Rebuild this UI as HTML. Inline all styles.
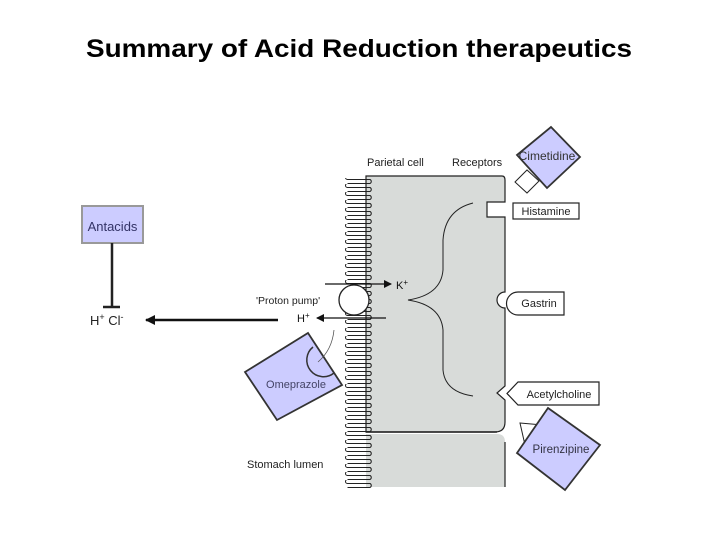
<!DOCTYPE html>
<html><head><style>
html,body{margin:0;padding:0;background:#fff;}
svg{display:block;}
text{font-family:"Liberation Sans",Arial,sans-serif;}
</style></head><body>
<svg width="720" height="540" viewBox="0 0 720 540" xmlns="http://www.w3.org/2000/svg">
<defs>
<pattern id="villi" x="344" y="176" width="32" height="8" patternUnits="userSpaceOnUse">
<path d="M26,-4.5 A2.2,2.2 0 0 1 26,-0.5 M26,-0.5 H3.5 A2,2 0 0 0 3.5,3.5 H26 A2.2,2.2 0 0 1 26,7.5 M26,7.5 H3.5" fill="none" stroke="#222" stroke-width="1"/>
</pattern>
<marker id="ah" markerWidth="8" markerHeight="8" refX="7" refY="4" orient="auto" markerUnits="userSpaceOnUse">
<path d="M0,0 L8,4 L0,8 z" fill="#111"/>
</marker>
<marker id="ah2" markerWidth="10" markerHeight="10" refX="9" refY="5" orient="auto" markerUnits="userSpaceOnUse">
<path d="M0,0 L10,5 L0,10 z" fill="#111"/>
</marker>
</defs>
<text x="359" y="57" font-size="25" font-weight="bold" text-anchor="middle" fill="#000" textLength="546" lengthAdjust="spacingAndGlyphs">Summary of Acid Reduction therapeutics</text>

<!-- cell -->
<path d="M366,176 H502 Q505,176 505,180 V202 H487 V217 H505 V292 A8,8 0 0 0 505,308 V386 L497,393 L505,400 V422 Q505,432 495,432 H366 Z" fill="#d8dbd9" stroke="#222" stroke-width="1.2"/>
<path d="M366,434 H497 Q505,434 505,442 V487 H366 Z" fill="#d8dbd9" stroke="none"/>
<path d="M505,442 V487" stroke="#222" stroke-width="1.2" fill="none"/>
<path d="M366,432 H497" stroke="#222" stroke-width="1.5"/>
<rect x="344" y="178" width="32" height="310" fill="url(#villi)"/>

<!-- brace -->
<path d="M473,203 Q445,210 443,240 V270 Q441,295 408,300 Q441,305 443,330 V370 Q445,392 473,396" fill="none" stroke="#222" stroke-width="1"/>

<text x="367" y="166" font-size="11" fill="#222">Parietal cell</text>
<text x="452" y="166" font-size="11" fill="#222">Receptors</text>

<!-- proton pump -->
<line x1="325" y1="284" x2="391" y2="284" stroke="#111" stroke-width="1.3" marker-end="url(#ah)"/>
<text x="396" y="289" font-size="11" fill="#111">K<tspan dy="-4" font-size="8">+</tspan></text>
<circle cx="354" cy="300" r="15" fill="#fff" stroke="#222" stroke-width="1.3"/>
<line x1="386" y1="318" x2="317" y2="318" stroke="#111" stroke-width="1.3" marker-end="url(#ah)"/>
<text x="297" y="322" font-size="11" fill="#111">H<tspan dy="-4" font-size="8">+</tspan></text>
<text x="256" y="304" font-size="10.5" fill="#222">'Proton pump'</text>

<!-- receptor ligands -->
<rect x="513" y="203" width="66" height="16" fill="#fff" stroke="#222" stroke-width="1.2"/>
<text x="546" y="215" font-size="11" text-anchor="middle" fill="#222">Histamine</text>
<path d="M518,292 H564 V315 H518 A11.5,11.5 0 0 1 518,292 Z" fill="#fff" stroke="#222" stroke-width="1.2"/>
<text x="539" y="307" font-size="11" text-anchor="middle" fill="#222">Gastrin</text>
<path d="M518,382 H599 V405 H518 L507,393.5 Z" fill="#fff" stroke="#222" stroke-width="1.2"/>
<text x="559" y="398" font-size="11" text-anchor="middle" fill="#222">Acetylcholine</text>

<!-- cimetidine -->
<path d="M515,182 L527,170 L539,181 L527,193 Z" fill="#fff" stroke="#222" stroke-width="1"/>
<path d="M551,127 L580,157 L547,188 L517,155 Z" fill="#ccccff" stroke="#333" stroke-width="1.8"/>
<text x="547" y="160" font-size="12" text-anchor="middle" fill="#333">Cimetidine</text>

<!-- pirenzipine -->
<path d="M520,423 L543,425 L525,445 Z" fill="#fff" stroke="#222" stroke-width="1"/>
<path d="M548,408 L600,445 L565,490 L517,453 Z" fill="#ccccff" stroke="#333" stroke-width="1.8"/>
<text x="561" y="453" font-size="11.5" text-anchor="middle" fill="#334">Pirenzipine</text>

<!-- omeprazole -->
<path d="M308,333 L342,385 L277,420 L245,372 Z" fill="#ccccff" stroke="#333" stroke-width="1.8"/>
<path d="M313,347 A15,15 0 0 0 334,373" fill="none" stroke="#333" stroke-width="1.5"/>
<path d="M334,330 Q332,350 318,362" fill="none" stroke="#555" stroke-width="0.8"/>
<text x="296" y="388" font-size="11" text-anchor="middle" fill="#446">Omeprazole</text>

<text x="247" y="468" font-size="11" fill="#222">Stomach lumen</text>

<!-- left -->
<rect x="82" y="206" width="61" height="37" fill="#ccccff" stroke="#999" stroke-width="2"/>
<text x="112.5" y="231" font-size="13" text-anchor="middle" fill="#336">Antacids</text>
<line x1="112" y1="243" x2="112" y2="307" stroke="#222" stroke-width="2.5"/>
<line x1="103" y1="307" x2="120" y2="307" stroke="#222" stroke-width="2.5"/>
<text x="90" y="325" font-size="13" fill="#222">H<tspan dy="-5" font-size="9">+</tspan><tspan dy="5"> Cl</tspan><tspan dy="-5" font-size="9">-</tspan></text>
<line x1="278" y1="320" x2="146" y2="320" stroke="#111" stroke-width="2.5" marker-end="url(#ah2)"/>
</svg>
</body></html>
